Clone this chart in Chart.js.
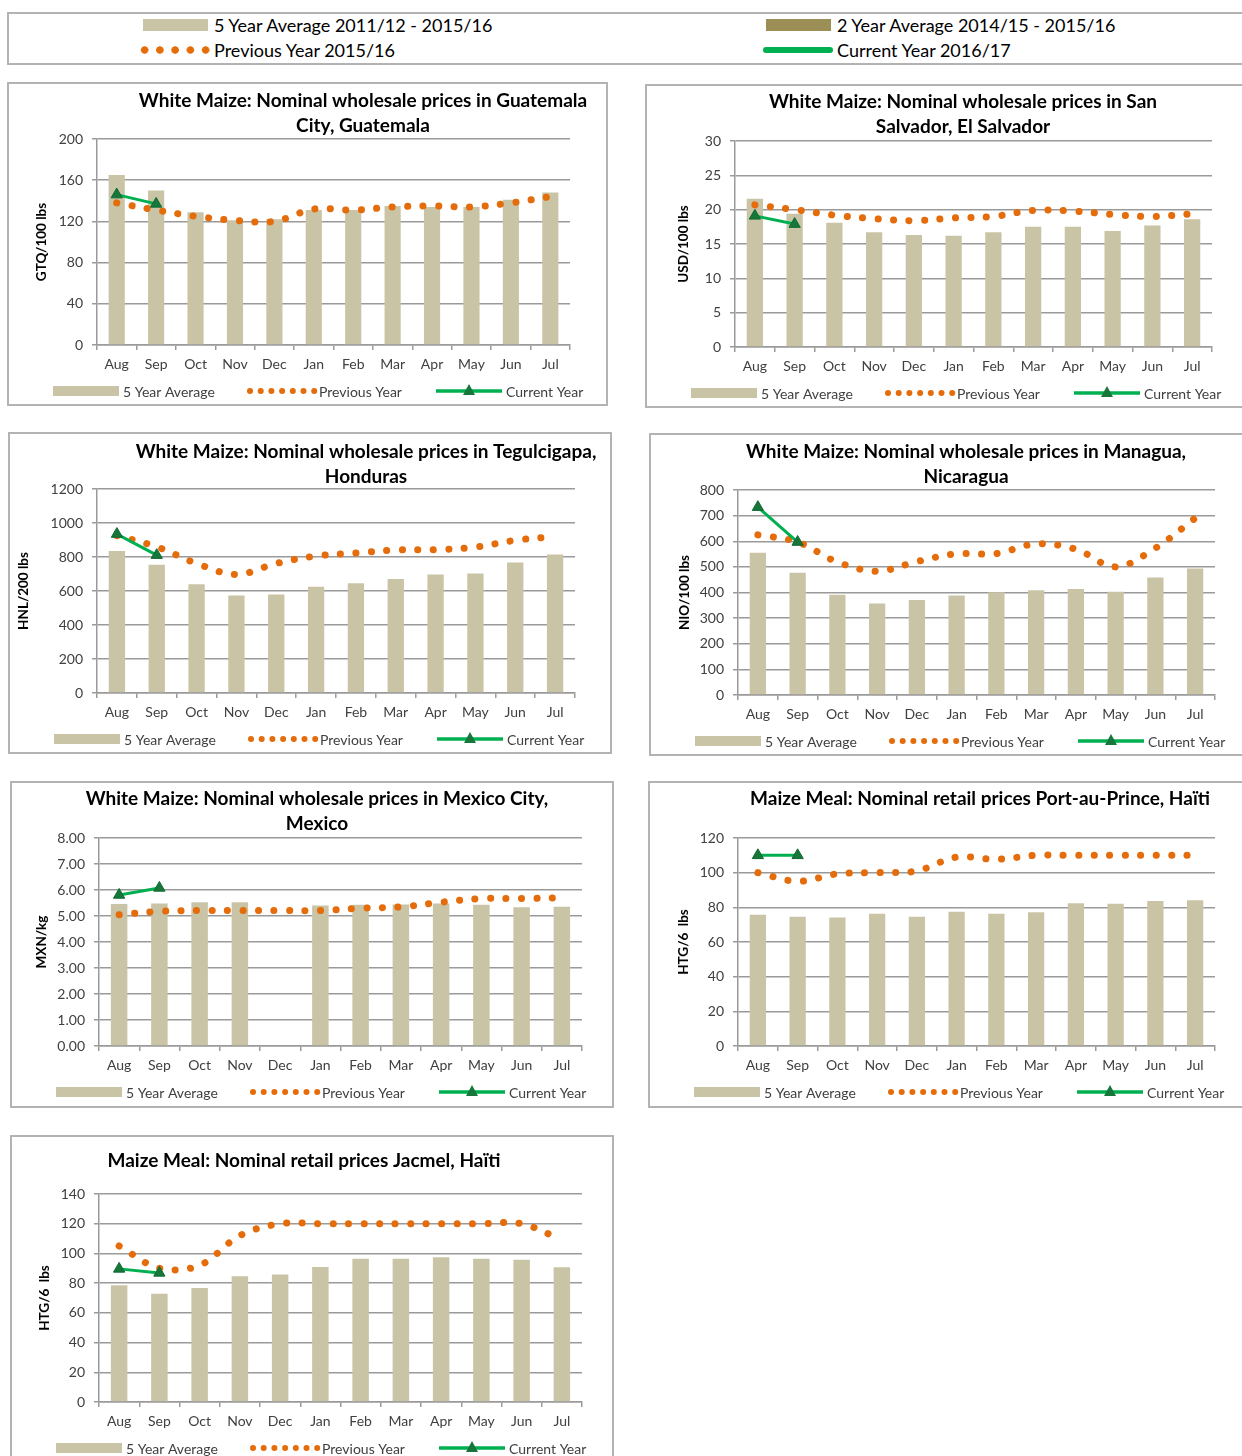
<!DOCTYPE html>
<html>
<head>
<meta charset="utf-8">
<script src="https://cdn.jsdelivr.net/npm/chart.js@4"></script>
<style>
  html, body { margin: 0; padding: 0; background: #fff; }
  body { width: 1242px; height: 1456px; overflow: hidden; position: relative; font-family: Lato, "Open Sans", sans-serif; }
  canvas { position: absolute; }
  #keybox { position: absolute; left: 7px; top: 12px; width: 1260px; height: 53px; border: 2px solid #b3b3b3; box-sizing: border-box; }
  .sw { position: absolute; }
  .kt { position: absolute; font-size: 18px; color: #000; line-height: 20px; white-space: nowrap; }
</style>
</head>
<body>
<!-- shared legend on top -->
<div id="keybox"></div>
<div class="sw" style="left:143px;top:19px;width:65px;height:12px;background:#cac4a7"></div>
<div class="kt" style="left:214px;top:15px">5 Year Average 2011/12 - 2015/16</div>
<div class="sw" style="left:137px;top:46px;width:75px;height:8px;background:radial-gradient(circle, #e46c0a 3.4px, transparent 4px) 0 0/15.25px 8px repeat-x"></div>
<div class="kt" style="left:214px;top:40px">Previous Year 2015/16</div>
<div class="sw" style="left:766px;top:19px;width:65px;height:12px;background:#9b8f56"></div>
<div class="kt" style="left:837px;top:15px">2 Year Average 2014/15 - 2015/16</div>
<div class="sw" style="left:763px;top:47px;width:70px;height:6px;border-radius:3px;background:#00b050"></div>
<div class="kt" style="left:837px;top:40px">Current Year 2016/17</div>

<canvas id="c1"></canvas>
<canvas id="c2"></canvas>
<canvas id="c3"></canvas>
<canvas id="c4"></canvas>
<canvas id="c5"></canvas>
<canvas id="c6"></canvas>
<canvas id="c7"></canvas>

<script>
// months of the marketing year
const months = ["Aug", "Sep", "Oct", "Nov", "Dec", "Jan", "Feb", "Mar", "Apr", "May", "Jun", "Jul"];

// Guatemala City (GTQ/100 lbs)
const guaAvg = [165, 150, 129, 121, 122, 131, 131, 135, 134, 134, 141, 148];
const guaPrev = [138, 131, 125, 121, 120, 132, 131, 134, 135, 134, 138, 144];
const guaCur = [146, 137];

// San Salvador (USD/100 lbs)
const salAvg = [21.6, 19.4, 18.1, 16.7, 16.3, 16.2, 16.7, 17.5, 17.5, 16.9, 17.7, 18.6];
const salPrev = [20.7, 20.0, 19.2, 18.7, 18.4, 18.8, 19.0, 19.9, 19.8, 19.3, 19.0, 19.4];
const salCur = [19.1, 17.9];

// Tegucigalpa (HNL/200 lbs)
const honAvg = [835, 754, 640, 574, 580, 625, 646, 670, 697, 703, 768, 815];
const honPrev = [925, 860, 762, 697, 762, 806, 823, 841, 843, 858, 898, 921];
const honCur = [935, 811];

// Managua (NIO/100 lbs)
const nicAvg = [555, 477, 391, 357, 371, 388, 401, 409, 414, 403, 459, 494];
const nicPrev = [625, 597, 519, 483, 521, 551, 552, 590, 569, 500, 573, 690];
const nicCur = [733, 597];

// Mexico City (MXN/kg) - no December average
const mexAvg = [5.46, 5.48, 5.53, 5.53, null, 5.40, 5.43, 5.44, 5.48, 5.43, 5.34, 5.36];
const mexPrev = [5.05, 5.18, 5.21, 5.21, 5.21, 5.21, 5.30, 5.35, 5.53, 5.67, 5.67, 5.70];
const mexCur = [5.81, 6.08];

// Port-au-Prince maize meal (HTG/6 lbs)
const papAvg = [75.7, 74.6, 74.2, 76.3, 74.6, 77.5, 76.3, 77.1, 82.3, 82.1, 83.7, 84.1];
const papPrev = [100, 95, 99.3, 100, 101, 109, 107.7, 110, 110, 110, 110, 110];
const papCur = [110, 110];

// Jacmel maize meal (HTG/6 lbs)
const jacAvg = [78.6, 72.8, 76.8, 84.7, 85.8, 90.9, 96.5, 96.5, 97.4, 96.5, 95.8, 90.7];
const jacPrev = [105, 90, 92, 112, 120, 120, 120, 120, 120, 120, 120, 109];
const jacCur = [89.6, 86.9];

const TAN = "#cac4a7";
const ORANGE = "#e46c0a";
const GREEN = "#00b050";
const DKGREEN = "#17763a";
const GRID = "#9a9a9a";
const FONT = "Lato, 'Open Sans', sans-serif";

// panel layouts (page position, plot rectangle inside the panel, title placement)
const panels = [
  { id: "c1", x: 7, y: 82, w: 601, h: 324, l: 90, r: 563, t: 57, b: 263,
    title: ["White Maize: Nominal wholesale prices in Guatemala", "City, Guatemala"], cx: 356, ty: 19,
    unit: "GTQ/100 lbs", ux: 35, max: 200, step: 40, avg: guaAvg, prev: guaPrev, cur: guaCur },
  { id: "c2", x: 645, y: 84, w: 620, h: 324, l: 90, r: 567, t: 57, b: 263,
    title: ["White Maize: Nominal wholesale prices in San", "Salvador, El Salvador"], cx: 318, ty: 18,
    unit: "USD/100 lbs", ux: 39, max: 30, step: 5, avg: salAvg, prev: salPrev, cur: salCur },
  { id: "c3", x: 8, y: 432, w: 604, h: 322, l: 89, r: 567, t: 57, b: 261,
    title: ["White Maize: Nominal wholesale prices in Tegulcigapa,", "Honduras"], cx: 358, ty: 20,
    unit: "HNL/200 lbs", ux: 16, max: 1200, step: 200, avg: honAvg, prev: honPrev, cur: honCur },
  { id: "c4", x: 649, y: 433, w: 620, h: 323, l: 89, r: 566, t: 57, b: 262,
    title: ["White Maize: Nominal wholesale prices in Managua,", "Nicaragua"], cx: 317, ty: 19,
    unit: "NIO/100 lbs", ux: 36, max: 800, step: 100, avg: nicAvg, prev: nicPrev, cur: nicCur },
  { id: "c5", x: 10, y: 781, w: 604, h: 327, l: 89, r: 572, t: 57, b: 265,
    title: ["White Maize: Nominal wholesale prices in Mexico City,", "Mexico"], cx: 307, ty: 18,
    unit: "MXN/kg", ux: 32, max: 8, step: 1, dec: 2, avg: mexAvg, prev: mexPrev, cur: mexCur },
  { id: "c6", x: 648, y: 781, w: 620, h: 327, l: 90, r: 567, t: 57, b: 265,
    title: ["Maize Meal: Nominal retail prices Port-au-Prince, Haïti"], cx: 332, ty: 18,
    unit: "HTG/6  lbs", ux: 36, max: 120, step: 20, avg: papAvg, prev: papPrev, cur: papCur },
  { id: "c7", x: 10, y: 1135, w: 604, h: 340, l: 89, r: 572, t: 59, b: 267,
    title: ["Maize Meal: Nominal retail prices Jacmel, Haïti"], cx: 294, ty: 26,
    unit: "HTG/6  lbs", ux: 35, max: 140, step: 20, avg: jacAvg, prev: jacPrev, cur: jacCur },
];

// draws the panel frame, the title lines and the little legend under each chart
const panelDecor = {
  id: "panel",
  afterDraw(chart, args, opts) {
    const ctx = chart.ctx;
    const w = chart.width, h = chart.height;
    ctx.save();
    ctx.strokeStyle = "#b3b3b3";
    ctx.lineWidth = 2;
    ctx.strokeRect(1, 1, w - 2, h - 2);

    ctx.fillStyle = "#000";
    ctx.font = "bold 19px " + FONT;
    ctx.textAlign = "center";
    ctx.textBaseline = "middle";
    opts.title.forEach((line, i) => ctx.fillText(line, opts.cx, opts.ty + i * 24.5));

    // legend row
    const y = chart.chartArea.bottom + 46;
    ctx.fillStyle = TAN;
    ctx.fillRect(46, y - 5, 66, 10);
    ctx.fillStyle = ORANGE;
    for (let i = 0; i < 7; i++) {
      ctx.beginPath();
      ctx.arc(243 + i * 10.7, y, 3, 0, Math.PI * 2);
      ctx.fill();
    }
    ctx.strokeStyle = GREEN;
    ctx.lineWidth = 3.5;
    ctx.beginPath();
    ctx.moveTo(429, y);
    ctx.lineTo(495, y);
    ctx.stroke();
    ctx.fillStyle = DKGREEN;
    ctx.beginPath();
    ctx.moveTo(462, y - 7);
    ctx.lineTo(468, y + 4);
    ctx.lineTo(456, y + 4);
    ctx.closePath();
    ctx.fill();

    ctx.fillStyle = "#404040";
    ctx.font = "14px " + FONT;
    ctx.textAlign = "left";
    ctx.fillText("5 Year Average", 116, y + 1);
    ctx.fillText("Previous Year", 312, y + 1);
    ctx.fillText("Current Year", 499, y + 1);
    ctx.restore();
  }
};

function makeChart(p) {
  const canvas = document.getElementById(p.id);
  canvas.width = p.w;
  canvas.height = p.h;
  canvas.style.left = p.x + "px";
  canvas.style.top = p.y + "px";
  const xh = 34;

  return new Chart(canvas, {
    type: "bar",
    data: {
      labels: months,
      datasets: [
        {
          type: "line", label: "Current Year", data: p.cur, order: 0,
          borderColor: GREEN, borderWidth: 3,
          pointStyle: "triangle", pointRadius: 6.5,
          pointBackgroundColor: DKGREEN, pointBorderColor: "#0f6a30", pointBorderWidth: 1,
        },
        {
          type: "line", label: "Previous Year", data: p.prev, order: 1,
          borderColor: ORANGE, borderWidth: 7, borderDash: [0.1, 15.4], borderCapStyle: "round",
          pointRadius: 0, tension: 0.35,
        },
        {
          type: "bar", label: "5 Year Average", data: p.avg, order: 2,
          backgroundColor: TAN, barPercentage: 0.41, categoryPercentage: 1,
        },
      ],
    },
    options: {
      responsive: false,
      animation: false,
      layout: { padding: { left: 0, top: p.t, right: p.w - p.r, bottom: p.h - p.b - xh } },
      plugins: {
        legend: { display: false },
        tooltip: { enabled: false },
        panel: { title: p.title, cx: p.cx, ty: p.ty },
      },
      scales: {
        x: {
          grid: { drawOnChartArea: false, tickLength: 5, color: GRID, offset: true, lineWidth: 1.5 },
          border: { color: GRID, width: 1.5 },
          ticks: { color: "#404040", font: { family: FONT, size: 14 }, padding: 6 },
          afterFit: (s) => { s.height = xh; },
        },
        y: {
          min: 0, max: p.max,
          ticks: {
            stepSize: p.step, color: "#404040", font: { family: FONT, size: 14 }, padding: 9,
            callback: (v) => p.dec ? v.toFixed(p.dec) : v,
          },
          grid: { color: GRID, lineWidth: 1.5, tickLength: 5 },
          border: { color: GRID, width: 1.5 },
          title: {
            display: true, text: p.unit, color: "#000",
            font: { family: FONT, size: 13.5, weight: "bold" },
            padding: { top: p.ux - 8.1, bottom: 0 },
          },
          afterFit: (s) => { s.width = p.l; },
        },
      },
    },
    plugins: [panelDecor],
  });
}

panels.forEach(makeChart);
</script>
</body>
</html>
